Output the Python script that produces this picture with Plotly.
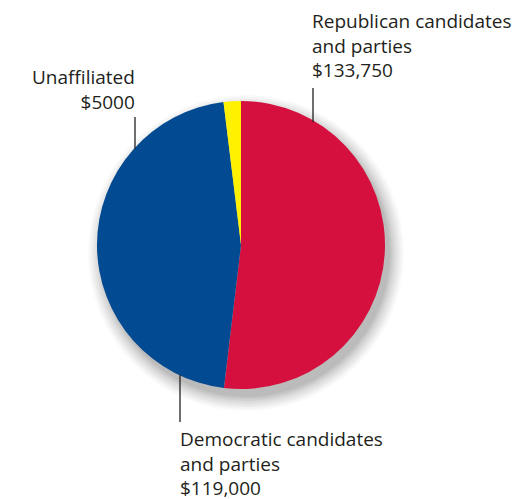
import plotly.graph_objects as go

W, H = 516, 499

labels = ["Republican candidates and parties", "Democratic candidates and parties", "Unaffiliated"]
values = [133750, 119000, 5000]
value_text = ["$133,750", "$119,000", "$5000"]
colors = ["#D5103F", "#024A92", "#FFF100"]

def px(x):
    return x / W

def py(y):
    return 1 - y / H

cx, cy, r = 241, 245, 144

fig = go.Figure()
fig.add_trace(go.Pie(
    labels=labels,
    values=values,
    marker=dict(colors=colors, line=dict(width=0)),
    sort=False,
    direction="clockwise",
    rotation=0,
    textinfo="none",
    hoverinfo="label+value",
    showlegend=False,
    domain=dict(x=[px(cx - r), px(cx + r)], y=[py(cy + r), py(cy - r)]),
))

shapes = []
# soft drop shadow
layers = [(14, 0.025), (12, 0.03), (10, 0.035), (8, 0.04), (6, 0.045), (4, 0.05), (2, 0.06), (0, 0.07)]
for dr, op in layers:
    sx, sy = cx + 5, cy + 8
    shapes.append(dict(type="circle", xref="paper", yref="paper", layer="below",
                       x0=px(sx - r - dr), x1=px(sx + r + dr),
                       y0=py(sy + r + dr), y1=py(sy - r - dr),
                       fillcolor="rgba(40,40,40,%s)" % op, line=dict(width=0)))

# leader lines
for (x, y0, y1) in [(313, 88, 122), (135, 117, 149), (180, 375, 422)]:
    shapes.append(dict(type="line", xref="paper", yref="paper",
                       x0=px(x), x1=px(x), y0=py(y0), y1=py(y1),
                       line=dict(color="#231F20", width=1.3)))

font = dict(family="Open Sans", size=19, color="#231F20")
annotations = [
    dict(text="Republican candidates<br>and parties<br>" + value_text[0],
         x=px(310), y=py(46), xanchor="left", yanchor="middle", align="left"),
    dict(text="Unaffiliated<br>" + value_text[2],
         x=px(137), y=py(90), xanchor="right", yanchor="middle", align="right"),
    dict(text="Democratic candidates<br>and parties<br>" + value_text[1],
         x=px(178), y=py(463), xanchor="left", yanchor="middle", align="left"),
]
for a in annotations:
    a.update(xref="paper", yref="paper", showarrow=False, font=font)

fig.update_layout(width=W, height=H, margin=dict(l=0, r=0, t=0, b=0),
                  paper_bgcolor="white", plot_bgcolor="white",
                  shapes=shapes, annotations=annotations)
fig.write_html("out.html",
               config={"displayModeBar": False},
               post_script="document.body.style.margin='0';"
                           "document.body.style.overflow='hidden';")
